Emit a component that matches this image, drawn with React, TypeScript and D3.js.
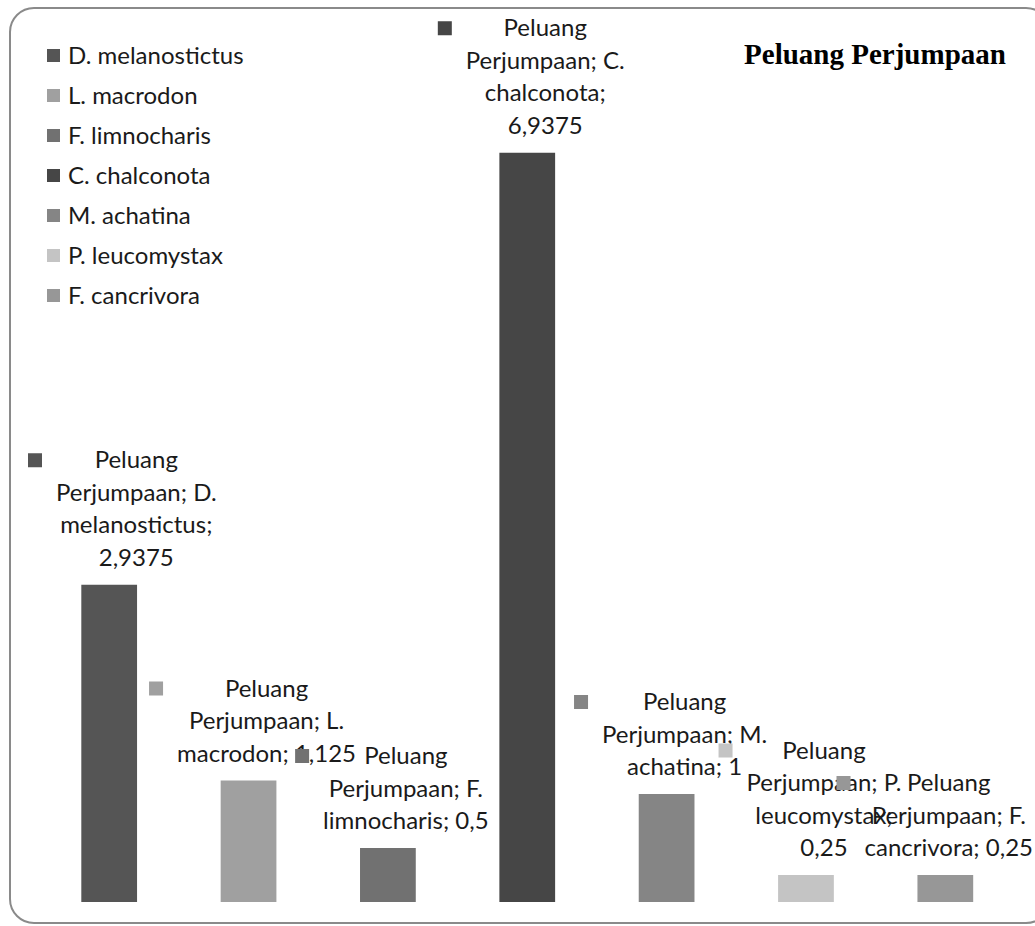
import React, { useMemo } from "react";
import * as d3 from "d3";

const categories = [
  "D. melanostictus",
  "L. macrodon",
  "F. limnocharis",
  "C. chalconota",
  "M. achatina",
  "P. leucomystax",
  "F. cancrivora",
];
const values = [2.9375, 1.125, 0.5, 6.9375, 1, 0.25, 0.25];
const colors = ["#555555", "#a0a0a0", "#717171", "#464646", "#858585", "#c4c4c4", "#979797"];
const labelLines = [
  ["Peluang", "Perjumpaan; D.", "melanostictus;", "2,9375"],
  ["Peluang", "Perjumpaan; L.", "macrodon; 1,125"],
  ["Peluang", "Perjumpaan; F.", "limnocharis; 0,5"],
  ["Peluang", "Perjumpaan; C.", "chalconota;", "6,9375"],
  ["Peluang", "Perjumpaan; M.", "achatina; 1"],
  ["Peluang", "Perjumpaan; P.", "leucomystax;", "0,25"],
  ["Peluang", "Perjumpaan; F.", "cancrivora; 0,25"],
];
const title = "Peluang Perjumpaan";

const W = 1035;
const H = 926;
const FONT = "Lato, 'Liberation Sans', sans-serif";
const FS = 24;

export default function App() {
  const x = d3.scaleBand<string>().domain(categories).range([39.5, 1015]).paddingInner(0.6).paddingOuter(0.3);
  const y = d3.scaleLinear().domain([0, 8]).range([902, 38]);

  const measure = useMemo(() => {
    const c = document.createElement("canvas").getContext("2d")!;
    c.font = `${FS}px ${FONT}`;
    return (s: string) => c.measureText(s).width;
  }, []);

  const lineH = 32.5;
  const keySize = 14;
  const keyGap = 14;

  return (
    <div style={{ position: "absolute", left: 0, top: 0 }}>
      <svg width={W} height={H} style={{ display: "block", background: "#fff" }}>
        <rect x={10} y={8} width={1040} height={915} rx={24} ry={24} fill="#fff" stroke="#8a8a8a" strokeWidth={2} />
        {categories.map((c, i) => (
          <rect key={c} x={x(c)} y={y(values[i])} width={x.bandwidth()} height={y(0) - y(values[i])} fill={colors[i]} />
        ))}
        {categories.map((c, i) => {
          const lines = labelLines[i];
          const maxW = d3.max(lines, (l) => measure(l)) as number;
          let cx = (x(c) as number) + x.bandwidth() / 2 + 18;
          const keyLeft = cx - maxW / 2 - keyGap - keySize;
          if (keyLeft < 28) cx += 28 - keyLeft;
          if (cx + maxW / 2 > 1033) cx = 1033 - maxW / 2;
          const lastBase = y(values[i]) - 19;
          const firstBase = lastBase - (lines.length - 1) * lineH;
          return (
            <g key={"l" + c}>
              <rect x={cx - maxW / 2 - keyGap - keySize} y={firstBase - 15} width={keySize} height={keySize} fill={colors[i]} />
              {lines.map((l, j) => (
                <text key={j} x={cx} y={firstBase + j * lineH} textAnchor="middle" fontFamily={FONT} fontSize={FS} fill="#1a1a1a">
                  {l}
                </text>
              ))}
            </g>
          );
        })}
        {categories.map((c, i) => (
          <g key={"lg" + c} transform={`translate(47, ${56 + i * 40})`}>
            <rect x={0} y={-7} width={13} height={13} fill={colors[i]} />
            <text x={21} y={8} fontFamily={FONT} fontSize={FS} fill="#1a1a1a">
              {c}
            </text>
          </g>
        ))}
        <text x={875} y={64} textAnchor="middle" fontFamily="'Liberation Serif', 'Times New Roman', serif" fontWeight="bold" fontSize={29} fill="#000">
          {title}
        </text>
      </svg>
    </div>
  );
}
